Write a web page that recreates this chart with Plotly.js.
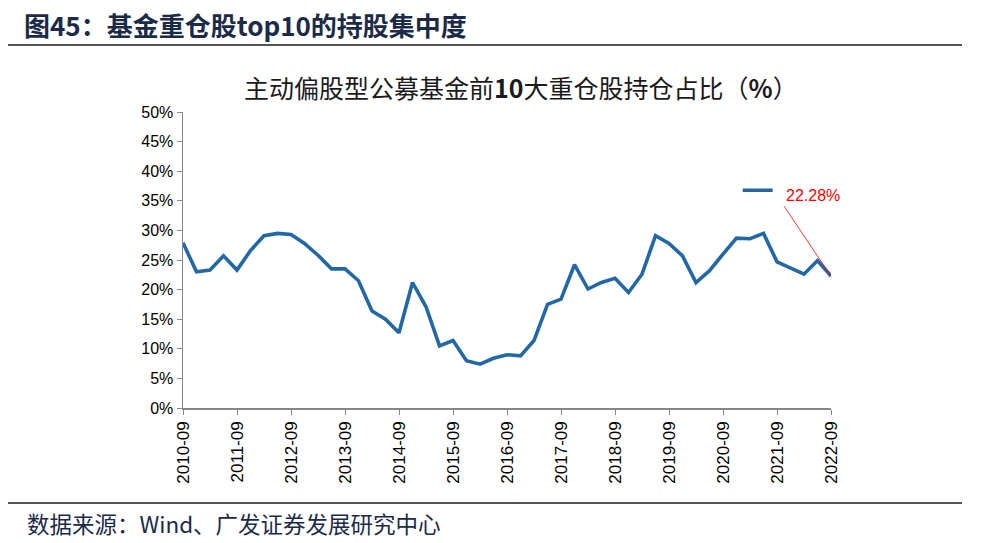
<!DOCTYPE html>
<html>
<head>
<meta charset="utf-8">
<script src="https://cdn.plot.ly/plotly-3.0.1.min.js"></script>
<style>html,body{margin:0;padding:0;background:#fff;}#chart{width:989px;height:543px;}</style>
</head>
<body>
<div id="chart"></div>
<script>
// Quarters 2010-09 .. 2022-09
const quarters = [
  "2010-09","2010-12","2011-03","2011-06","2011-09","2011-12","2012-03","2012-06",
  "2012-09","2012-12","2013-03","2013-06","2013-09","2013-12","2014-03","2014-06",
  "2014-09","2014-12","2015-03","2015-06","2015-09","2015-12","2016-03","2016-06",
  "2016-09","2016-12","2017-03","2017-06","2017-09","2017-12","2018-03","2018-06",
  "2018-09","2018-12","2019-03","2019-06","2019-09","2019-12","2020-03","2020-06",
  "2020-09","2020-12","2021-03","2021-06","2021-09","2021-12","2022-03","2022-06",
  "2022-09"
];
// Top-10 holdings share (%)
const top10Share = [
  27.9, 23.0, 23.3, 25.7, 23.3, 26.6, 29.1, 29.5,
  29.3, 27.8, 25.8, 23.5, 23.5, 21.5, 16.4, 15.0,
  12.7, 21.2, 17.1, 10.5, 11.4, 8.0, 7.4, 8.4,
  9.0, 8.8, 11.4, 17.5, 18.4, 24.2, 20.1, 21.2,
  21.9, 19.5, 22.6, 29.1, 27.8, 25.7, 21.2, 23.2,
  26.0, 28.7, 28.6, 29.5, 24.7, 23.6, 22.6, 24.9,
  22.28
];
const tickLabels = ["2010-09","2011-09","2012-09","2013-09","2014-09","2015-09","2016-09",
  "2017-09","2018-09","2019-09","2020-09","2021-09","2022-09"];
const yTickVals = [0,5,10,15,20,25,30,35,40,45,50];

const lastIdx = top10Share.length - 1;
const cjk = '"Noto Sans CJK SC", "Noto Sans", sans-serif';
const latin = '"Liberation Sans", Arial, sans-serif';

const trace = {
  x: quarters,
  y: top10Share,
  type: 'scatter',
  mode: 'lines',
  name: ' ',
  line: {color: '#2368A6', width: 3.6},
  hoverinfo: 'x+y'
};

const layout = {
  width: 989, height: 543,
  margin: {l: 183, r: 158, t: 112, b: 135},
  paper_bgcolor: '#fff', plot_bgcolor: '#fff',
  showlegend: true,
  legend: {x: 0.856, y: 0.735, xanchor: 'left', yanchor: 'middle',
    font: {size: 15, family: latin, color: '#FF0000'}, bgcolor: 'rgba(0,0,0,0)',
    itemwidth: 30, tracegroupgap: 0},
  title: {
    text: '<b>图45：基金重仓股top10的持股集中度</b>',
    x: 24/989, xanchor: 'left', xref: 'container',
    y: 1 - 27/543, yanchor: 'middle', yref: 'container',
    font: {family: cjk, size: 26, color: '#1B2A48'}
  },
  xaxis: {
    type: 'category',
    range: [0, lastIdx],
    tickmode: 'array',
    tickvals: tickLabels,
    ticktext: tickLabels,
    tickangle: -90,
    ticks: 'outside', ticklen: 5, tickcolor: '#868686', tickwidth: 1,
    showline: true, linecolor: '#868686', linewidth: 1.5,
    showgrid: false, zeroline: false,
    tickfont: {family: latin, size: 17, color: '#000'},
    fixedrange: true
  },
  yaxis: {
    range: [0, 50],
    tickmode: 'array',
    tickvals: yTickVals,
    ticktext: yTickVals.map(v => v + '%'),
    ticks: 'outside', ticklen: 5, tickcolor: '#868686', tickwidth: 1,
    showline: true, linecolor: '#868686', linewidth: 1.5,
    showgrid: false, zeroline: false,
    tickfont: {family: latin, size: 16, color: '#000'},
    fixedrange: true
  },
  annotations: [
    {
      xref: 'paper', yref: 'paper',
      x: (521-183)/648, y: (408-87)/296,
      xanchor: 'center', yanchor: 'middle',
      text: '主动偏股型公募基金前<b>10</b>大重仓股持仓占比（<b>%</b>）',
      showarrow: false,
      font: {family: cjk, size: 25, color: '#1a1a1a'}
    },
    {
      xref: 'paper', yref: 'paper',
      x: (25-183)/648, y: (408-523)/296,
      xanchor: 'left', yanchor: 'middle',
      text: '数据来源：Wind、广发证券发展研究中心',
      showarrow: false,
      font: {family: cjk, size: 22.5, color: '#1B2A48'}
    },
    {
      x: quarters[lastIdx], y: top10Share[lastIdx],
      xref: 'x', yref: 'y',
      text: top10Share[lastIdx].toFixed(2) + '%',
      showarrow: true, arrowhead: 0, arrowwidth: 0.8, arrowcolor: '#FF0000',
      standoff: 0, ax: -47, ay: -70,
      xanchor: 'left', yanchor: 'bottom',
      font: {family: latin, size: 16, color: '#FF0000'}
    }
  ],
  shapes: [
    {type: 'line', xref: 'paper', yref: 'paper',
      x0: (8-183)/648, x1: (962-183)/648, y0: (408-45)/296, y1: (408-45)/296,
      line: {color: '#555', width: 2}},
    {type: 'line', xref: 'paper', yref: 'paper',
      x0: (8-183)/648, x1: (962-183)/648, y0: (408-503)/296, y1: (408-503)/296,
      line: {color: '#555', width: 2}}
  ]
};

Plotly.newPlot('chart', [trace], layout, {displayModeBar: false, staticPlot: true});
</script>
</body>
</html>
